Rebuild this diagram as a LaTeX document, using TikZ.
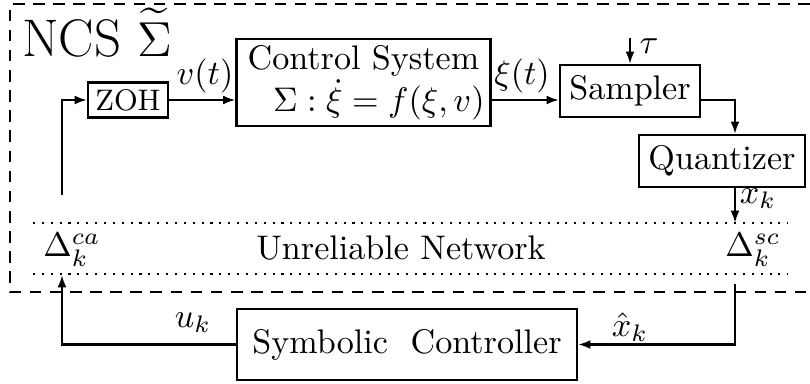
\documentclass[tikz,border=0pt]{standalone}
\usepackage{amsmath}
\usetikzlibrary{arrows.meta,calc}
\begin{document}
\begin{tikzpicture}[x=0.293pt,y=-0.293pt,
  line width=0.65pt,
  blk/.style={draw,line width=0.65pt,inner sep=0pt,font=\fontsize{10}{10.5}\selectfont},
  lbl/.style={inner sep=0pt,font=\fontsize{10}{12}\selectfont},
  arr/.style={-{Latex[length=3.6pt,width=2.6pt]}},
  netline/.style={dotted,line width=0.6pt},
  ncsbox/.style={dash pattern=on 3.4pt off 2.5pt,line width=0.6pt}]
\useasboundingbox (0,0) rectangle (810,383);
% dashed NCS boundary (right side outside the picture)
\draw[ncsbox] (830,4) -- (10,4) -- (10,292) -- (830,292);
\node[lbl,anchor=base west,font=\fontsize{15.5}{18}\selectfont] (ncs) at (21,56) {NCS $\widetilde{\Sigma}$};
% blocks
\node[blk,minimum width=23.4pt,minimum height=10.3pt,font=\fontsize{8.7}{10}\selectfont] (zoh) at (128,100) {ZOH};
\node[blk,minimum width=74.4pt,minimum height=25.5pt,align=center] (cs) at (363.5,82.5) {Control System\\\hspace*{9pt}$\Sigma:\dot{\xi}=f(\xi,v)$};
\node[blk,minimum width=41pt,minimum height=15.2pt] (samp) at (630,91) {Sampler};
\node[blk,minimum width=48.6pt,minimum height=15.2pt] (quant) at (722,161) {Quantizer};
\node[blk,minimum width=99.6pt,minimum height=20.8pt] (sym) at (407,344.5) {Symbolic\ \ Controller};
% coordinates
\coordinate (tap) at (735,100);
\coordinate (fb) at (62,100);
\coordinate (fbtop) at (62,195);
\coordinate (nettopR) at (735,223);
\coordinate (netbotR) at (735,284);
\coordinate (netbotL) at (62,275);
\coordinate (tautop) at (630,38);
\coordinate (nl1) at (33,223);
\coordinate (nr1) at (788,223);
\coordinate (nl2) at (33,274);
\coordinate (nr2) at (788,274);
% network
\draw[netline] (nl1) -- (nr1);
\draw[netline] (nl2) -- (nr2);
\node[lbl,anchor=base] (net) at (401,259) {Unreliable Network};
\node[lbl] (dca) at (72,250) {$\Delta_k^{ca}$};
\node[lbl] (dsc) at (753,250) {$\Delta_k^{sc}$};
% connectors
\draw[arr] (zoh) -- (zoh -| cs.west);
\draw[arr] (cs.east |- zoh) -- (samp.west |- zoh);
\draw[arr] (samp.east |- zoh) -| (tap |- quant.north);
\draw[arr] (tautop) -- (samp.north);
\draw[arr] (tap |- quant.south) -- (nettopR);
\draw[arr] (netbotR) |- (sym.east);
\draw[arr] (sym.west) -| (netbotL);
\draw[arr] (fbtop) -- (fb) -- (zoh.west);
% labels
\node[lbl] (vt) at (205,76) {$v(t)$};
\node[lbl] (xit) at (522,76) {$\xi(t)$};
\node[lbl] (tau) at (649,46) {$\tau$};
\node[lbl] (xk) at (758,199) {$x_k$};
\node[lbl] (uk) at (193,323) {$u_k$};
\node[lbl] (xhk) at (630,327) {$\hat{x}_k$};
\end{tikzpicture}
\end{document}
